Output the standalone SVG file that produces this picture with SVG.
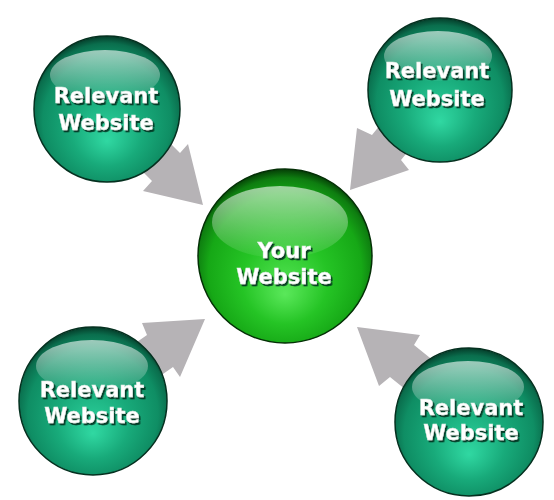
<svg xmlns="http://www.w3.org/2000/svg" width="554" height="500" viewBox="0 0 554 500">
<defs>
<radialGradient id="teal" cx="0.5" cy="0.55" r="0.55" fx="0.5" fy="0.72">
<stop offset="0" stop-color="#30d8a2"/>
<stop offset="0.45" stop-color="#18aa7a"/>
<stop offset="0.8" stop-color="#0f8e64"/>
<stop offset="0.93" stop-color="#0a6e4d"/>
<stop offset="1" stop-color="#053d2a"/>
</radialGradient>
<radialGradient id="green" cx="0.5" cy="0.55" r="0.55" fx="0.5" fy="0.72">
<stop offset="0" stop-color="#5ae85a"/>
<stop offset="0.45" stop-color="#25c425"/>
<stop offset="0.8" stop-color="#16a816"/>
<stop offset="0.93" stop-color="#0e7d10"/>
<stop offset="1" stop-color="#053d06"/>
</radialGradient>
<linearGradient id="hl" x1="0" y1="0" x2="0" y2="1">
<stop offset="0" stop-color="#ffffff" stop-opacity="0.6"/>
<stop offset="1" stop-color="#ffffff" stop-opacity="0.05"/>
</linearGradient>
<filter id="shadow" x="-20%" y="-30%" width="140%" height="160%">
<feDropShadow dx="1.6" dy="2" stdDeviation="0.6" flood-color="#06301f" flood-opacity="0.9"/>
</filter>
<style>
.arrow{fill:#b6b3b6}
.ring{stroke:#04301f;stroke-width:1.5}
.ringc{stroke:#043006;stroke-width:1.5}
.lbl{font-family:"DejaVu Sans","Liberation Sans",sans-serif;font-weight:bold;font-size:21px;text-anchor:middle;fill:#ffffff;stroke:#d8e8e0;stroke-width:0.4;filter:url(#shadow)}
</style>
</defs>
<rect width="554" height="500" fill="#ffffff"/>
<g id="connectors">
<polygon class="arrow" points="203,205 188,144 180,153 140,113 112,141 152,181 143,191"/>
<polygon class="arrow" points="350,190 357,128 372,135 397,104 426,129 401,160 409,170"/>
<polygon class="arrow" points="205,319 142,323 147,335 114,358 140,390 173,367 180,377"/>
<polygon class="arrow" points="357,327 420,335 414,345 445,370 421,402 390,377 379,386"/>
</g>
<g id="node-tl">
<circle cx="107" cy="109" r="73" fill="url(#teal)" class="ring"/>
<ellipse cx="105" cy="75" rx="55" ry="25" fill="url(#hl)"/>
<text class="lbl" x="106" y="103">Relevant</text>
<text class="lbl" x="106" y="130">Website</text>
</g>
<g id="node-tr">
<circle cx="440" cy="90" r="72" fill="url(#teal)" class="ring"/>
<ellipse cx="438" cy="56" rx="54" ry="25" fill="url(#hl)"/>
<text class="lbl" x="437" y="78">Relevant</text>
<text class="lbl" x="437" y="106">Website</text>
</g>
<g id="node-bl">
<circle cx="93" cy="401" r="74" fill="url(#teal)" class="ring"/>
<ellipse cx="92" cy="366" rx="56" ry="26" fill="url(#hl)"/>
<text class="lbl" x="92" y="397">Relevant</text>
<text class="lbl" x="92" y="423">Website</text>
</g>
<g id="node-br">
<circle cx="469" cy="422" r="74" fill="url(#teal)" class="ring"/>
<ellipse cx="468" cy="387" rx="56" ry="26" fill="url(#hl)"/>
<text class="lbl" x="471" y="415">Relevant</text>
<text class="lbl" x="471" y="440">Website</text>
</g>
<g id="node-center">
<circle cx="285" cy="256" r="87" fill="url(#green)" class="ringc"/>
<ellipse cx="280" cy="222" rx="68" ry="36" fill="url(#hl)"/>
<text class="lbl" x="284" y="258">Your</text>
<text class="lbl" x="284" y="284">Website</text>
</g>
</svg>
